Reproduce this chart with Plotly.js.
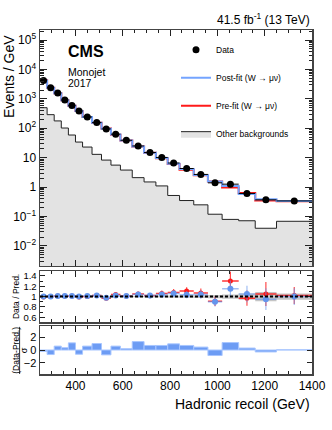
<!DOCTYPE html>
<html>
<head>
<meta charset="utf-8">
<script src="https://cdn.plot.ly/plotly-3.0.1.min.js"></script>
<style>html,body{margin:0;padding:0;background:#fff;}#chart{width:332px;height:430px;}</style>
</head>
<body>
<div id="chart"></div>
<script>
// ---- data ----
const binEdges = [250,280,310,340,370,400,430,470,510,550,590,640,690,740,790,840,900,960,1020,1090,1160,1250,1400];
const dataEvents = [4240,2400,1580,910,590,385,242,156,95,63,39,25,15,10.2,6.6,4.3,2.7,1.4,1.26,0.61,0.37,0.34];
const otherBkg = [500,290,178,102,59,34,23,13,8.3,5.6,3.8,2.1,1.5,1.1,0.52,0.35,0.25,0.12,0.08,0.072,0.04,0.069];
const ratioPre = [0.99,1.0,1.01,1.01,1.01,0.99,1.0,1.02,0.97,1.04,1.01,1.05,1.02,1.06,1.08,1.11,1.07,0.91,1.30,0.97,1.05,1.02];
const ratioPost = [1.0,1.0,1.01,1.01,1.01,1.0,1.01,1.02,0.98,1.02,1.01,1.04,1.02,1.04,1.06,1.035,1.04,0.90,1.15,1.05,0.95,1.0];
const relErr = [0.005,0.007,0.008,0.01,0.012,0.014,0.017,0.02,0.025,0.03,0.033,0.04,0.05,0.055,0.06,0.065,0.08,0.1,0.14,0.15,0.22,0.16];
const bandErr = [0.004,0.004,0.005,0.005,0.006,0.006,0.007,0.008,0.009,0.01,0.011,0.013,0.015,0.017,0.02,0.023,0.027,0.03,0.04,0.06,0.09,0.06];
const pulls = [-0.2,-0.7,0.6,0.35,1.1,-0.65,0.6,1.0,-0.75,0.6,0.2,1.3,0.7,0.7,0.95,0.7,0.45,-0.85,1.15,0.3,-0.3,0.03];
const yTickVals = [0.01,0.1,1,10,100,1000,10000,100000];
const yTickText = ['10<sup>−2</sup>','10<sup>−1</sup>','1','10','10<sup>2</sup>','10<sup>3</sup>','10<sup>4</sup>','10<sup>5</sup>'];

// ---- derived ----
const centers = binEdges.slice(0,-1).map((e,i)=>(e+binEdges[i+1])/2);
const widths = binEdges.slice(0,-1).map((e,i)=>binEdges[i+1]-e);
const halfW = widths.map(w=>w/2);
const stepY = v => v.concat([v[v.length-1]]);
const postFit = dataEvents.map((d,i)=>d/ratioPost[i]);
const preFit = dataEvents.map((d,i)=>d/ratioPre[i]);
const dataErr = dataEvents.map((d,i)=>d*relErr[i]);
const preErr = ratioPre.map((r,i)=>r*relErr[i]);
const postErr = ratioPost.map((r,i)=>r*relErr[i]);

const FONT = 'Liberation Sans, Arial, sans-serif';
const BLUE = '#6d9cf4';
const PTBLUE = '#6495ed';
const RED = '#ff1a1a';

const traces = [
  {type:'scatter', x:binEdges, y:stepY(otherBkg), mode:'lines', line:{shape:'hv', color:'#222', width:1},
   fill:'tozeroy', fillcolor:'#e3e3e3', name:'Other backgrounds', legendgroup:'d', legendrank:4, xaxis:'x', yaxis:'y'},
  {type:'scatter', x:binEdges, y:stepY(preFit), mode:'lines', line:{shape:'hv', color:RED, width:2},
   name:'Pre-fit (W → μν)', legendgroup:'c', legendrank:3, xaxis:'x', yaxis:'y'},
  {type:'scatter', x:binEdges, y:stepY(postFit), mode:'lines', line:{shape:'hv', color:'#74a4ff', width:2},
   name:'Post-fit (W → μν)', legendgroup:'b', legendrank:2, xaxis:'x', yaxis:'y'},
  {type:'scatter', x:centers, y:dataEvents, mode:'markers', marker:{color:'#000', size:7},
   error_y:{type:'data', array:dataErr, color:'#000', thickness:1, width:0},
   error_x:{type:'data', array:halfW, color:'#000', thickness:1, width:0},
   name:'Data', legendgroup:'a', legendrank:1, xaxis:'x', yaxis:'y'},
  // ratio band
  {type:'scatter', x:binEdges, y:stepY(bandErr.map(e=>1-e)), mode:'lines', line:{shape:'hv', width:0},
   showlegend:false, hoverinfo:'skip', xaxis:'x2', yaxis:'y2'},
  {type:'scatter', x:binEdges, y:stepY(bandErr.map(e=>1+e)), mode:'lines', line:{shape:'hv', width:0},
   fill:'tonexty', fillcolor:'rgba(150,150,150,0.55)', showlegend:false, hoverinfo:'skip', xaxis:'x2', yaxis:'y2'},
  {type:'scatter', x:centers, y:ratioPre, mode:'markers', marker:{color:RED, size:5},
   error_y:{type:'data', array:preErr, color:'rgba(255,30,30,0.8)', thickness:1.2, width:0},
   error_x:{type:'data', array:halfW, color:'rgba(255,30,30,0.9)', thickness:1.5, width:0},
   showlegend:false, xaxis:'x2', yaxis:'y2'},
  {type:'scatter', x:centers, y:ratioPost, mode:'markers', marker:{color:PTBLUE, size:6},
   error_y:{type:'data', array:postErr, color:'rgba(100,149,237,0.6)', thickness:1.2, width:0},
   error_x:{type:'data', array:halfW, color:'rgba(100,149,237,0.6)', thickness:1.5, width:0},
   showlegend:false, xaxis:'x2', yaxis:'y2'},
  // pulls
  {type:'bar', x:centers, y:pulls, width:widths, marker:{color:BLUE, line:{color:'#a8c6ff', width:1}},
   showlegend:false, xaxis:'x3', yaxis:'y3'}
];

const frame = {showline:true, linecolor:'#444', linewidth:1.5, mirror:'allticks', ticks:'inside', tickcolor:'#222',
  zeroline:false, showgrid:false};
const xcommon = Object.assign({}, frame, {range:[250,1400], tick0:0, dtick:200, ticklen:6,
  minor:{ticks:'inside', ticklen:3, dtick:50, tick0:0, tickcolor:'#222'}});

const minorLog = [];
for (let d=-3; d<=5; d++) for (let k=2; k<=9; k++) minorLog.push(k*Math.pow(10,d));

const layout = {
  width:332, height:430,
  margin:{l:40, r:20, t:30, b:56},
  paper_bgcolor:'#fff', plot_bgcolor:'#fff',
  font:{family:FONT, color:'#000'},
  showlegend:true,
  bargap:0,
  legend:{x:0.5, y:0.985, xanchor:'left', yanchor:'top', bgcolor:'rgba(0,0,0,0)', font:{size:8.5, family:FONT},
    tracegroupgap:9, traceorder:'grouped', itemwidth:30},
  xaxis: Object.assign({}, xcommon, {domain:[0,1], anchor:'y', showticklabels:false}),
  xaxis2: Object.assign({}, xcommon, {domain:[0,1], anchor:'y2', showticklabels:false}),
  xaxis3: Object.assign({}, xcommon, {domain:[0,1], anchor:'y3', showticklabels:true, tickfont:{size:12, family:FONT}}),
  yaxis: Object.assign({}, frame, {domain:[0.314,1], anchor:'x', type:'log', range:[-2.68,5.34],
    tickmode:'array', tickvals:yTickVals, ticktext:yTickText, ticklen:7, tickfont:{size:12, family:FONT},
    minor:{ticks:'inside', ticklen:3.5, tickmode:'array', tickvals:minorLog, tickcolor:'#222'}}),
  yaxis2: Object.assign({}, frame, {domain:[0.151,0.299], anchor:'x2', range:[0.51,1.49],
    tickmode:'array', tickvals:[0.6,0.8,1,1.2,1.4], ticktext:['0.6','0.8','1','1.2','1.4'], ticklen:5,
    tickfont:{size:9.5, family:FONT}, minor:{ticks:'inside', ticklen:3, dtick:0.1, tick0:0}}),
  yaxis3: Object.assign({}, frame, {domain:[0,0.1395], anchor:'x3', range:[-3.7,3.7],
    tickmode:'array', tickvals:[-2,0,2], ticktext:['−2','0','2'], ticklen:5,
    tickfont:{size:11, family:FONT}}),
  shapes:[
    {type:'line', xref:'x2 domain', yref:'y2', x0:0, x1:1, y0:1, y1:1, line:{color:'#000', width:2, dash:'3px,2px'}},
    {type:'line', xref:'paper', yref:'paper', x0:-0.075, x1:-0.075, y0:0.0, y1:0.137, line:{color:'#000', width:0.8}}
  ],
  annotations:[
    {text:'41.5 fb<sup>-1</sup> (13 TeV)', xref:'paper', yref:'paper', x:1, y:1.033, xanchor:'right', yanchor:'middle',
      showarrow:false, font:{size:12, family:FONT}},
    {text:'<b>CMS</b>', xref:'paper', yref:'paper', x:0.095, y:0.937, xanchor:'left', yanchor:'middle',
      showarrow:false, font:{size:16, family:FONT}},
    {text:'Monojet', xref:'paper', yref:'paper', x:0.095, y:0.878, xanchor:'left', yanchor:'middle',
      showarrow:false, font:{size:10.5, family:FONT}},
    {text:'2017', xref:'paper', yref:'paper', x:0.095, y:0.846, xanchor:'left', yanchor:'middle',
      showarrow:false, font:{size:10.5, family:FONT}},
    {text:'Events / GeV', xref:'paper', yref:'paper', x:-0.114, y:0.993, xanchor:'center', yanchor:'top', textangle:-90,
      showarrow:false, font:{size:14, family:FONT}},
    {text:'Data / Pred.', xref:'paper', yref:'paper', x:-0.09, y:0.225, xanchor:'center', yanchor:'middle', textangle:-90,
      showarrow:false, font:{size:8.5, family:FONT}},
    {text:'(Data-Pred.)', xref:'paper', yref:'paper', x:-0.089, y:0.07, xanchor:'center', yanchor:'middle', textangle:-90,
      showarrow:false, font:{size:8.5, family:FONT}},
    {text:'σ', xref:'paper', yref:'paper', x:-0.058, y:0.07, xanchor:'center', yanchor:'middle', textangle:-90,
      showarrow:false, font:{size:9, family:FONT}},
    {text:'Hadronic recoil (GeV)', xref:'paper', yref:'paper', x:1, y:-0.087, xanchor:'right', yanchor:'middle',
      showarrow:false, font:{size:14, family:FONT}}
  ]
};

Plotly.newPlot('chart', traces, layout, {displayModeBar:false, staticPlot:true});
</script>
</body>
</html>
